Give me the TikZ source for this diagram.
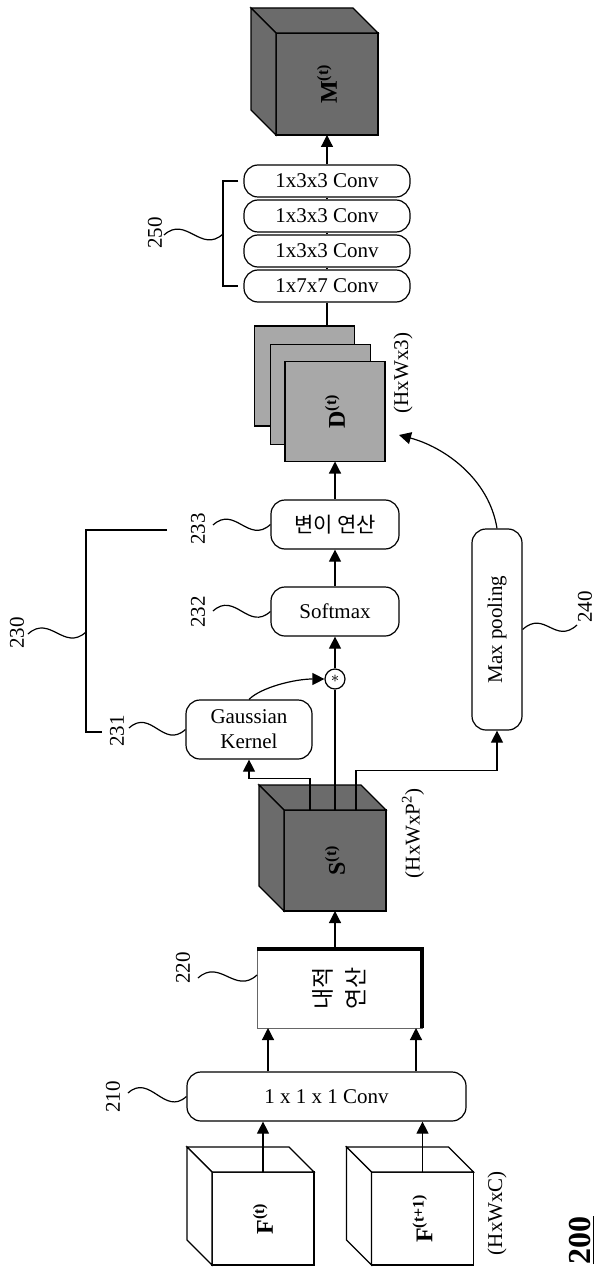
\documentclass[tikz,border=0pt]{standalone}
\usepackage{fontspec}
\setmainfont{Liberation Serif}
\newfontfamily\korfont{Noto Sans CJK KR}
\usetikzlibrary{calc,positioning,arrows.meta}

\definecolor{cubedark}{gray}{0.42}
\definecolor{sheetgray}{gray}{0.66}

\newcommand{\basefont}{\fontsize{10.5}{12.6}\selectfont}
\newcommand{\cubesides}[2]{%
  \filldraw[ln,fill=#2] (#1.north west) -- ++(-25,-25) -- ($(#1.north east)+(-25,-25)$) -- (#1.north east) -- cycle;
  \filldraw[ln,fill=#2] (#1.north west) -- ++(-25,-25) -- ($(#1.south west)+(-25,-25)$) -- (#1.south west) -- cycle;}
\newcommand{\squig}[2]{\draw[ln] (#1) .. controls +(22,-20) and +(-22,20) .. (#2);}

\tikzset{
  ln/.style={line width=0.6pt},
  arr/.style={ln,-{Triangle[length=6pt,width=6pt]}},
  rbox/.style={draw,ln,rounded corners=7pt,inner sep=0pt,align=center,font=\basefont},
  convbox/.style={rbox,minimum width=83pt,minimum height=16pt},
  opbox/.style={rbox,minimum width=64pt,minimum height=24.5pt},
  face/.style={draw,ln,inner sep=0pt,outer sep=0pt},
  vtext/.style={rotate=90,inner sep=0pt,font=\basefont},
  vbold/.style={rotate=90,inner sep=0pt,font=\fontsize{12}{14}\selectfont\bfseries},
}

\begin{document}
\begin{tikzpicture}[x=0.5pt,y=-0.5pt]
\useasboundingbox (0,0) rectangle (602,1278);

%output volume
\node[face,fill=cubedark,minimum width=51pt,minimum height=51pt] (M) at (327,84) {};
\cubesides{M}{cubedark}
\node[vbold] (Mlab) at (M) {M\textsuperscript{(t)}};

%refinement
\node[convbox] (c1) at (327,181) {1x3x3 Conv};
\node[convbox] (c2) at (327,216) {1x3x3 Conv};
\node[convbox] (c3) at (327,251) {1x3x3 Conv};
\node[convbox] (c4) at (327,286) {1x7x7 Conv};
\draw[arr] (c1.north) -- (M.south);
\draw[ln] (c2.north) -- (c1.south);
\draw[ln] (c3.north) -- (c2.south);
\draw[ln] (c4.north) -- (c3.south);

\coordinate (b250) at (223,234);
\draw[ln] ([xshift=-2.5pt]c1.west) -| (b250) |- ([xshift=-2.5pt]c4.west);
\squig{164,235}{b250}
\node[vtext] (n250) at (155,233) {250};

%disparity
\node[face,fill=sheetgray,minimum size=50pt] (D1) at (304.5,376) {};
\node[face,fill=sheetgray,minimum size=50pt] (D2) at (320.5,394.5) {};
\node[face,fill=sheetgray,minimum size=50pt] (D3) at (335,411.5) {};
\node[vbold] (Dlab) at (D3) {D\textsuperscript{(t)}};
\node[vtext] (Dsize) at (403,373) {(HxWx3)};
\draw[ln] (c4.south) -- (c4.south |- D1.north);

%disparity regression block
\node[opbox,font=\korfont\basefont] (disp) at (335,524.5) {변이 연산};
\node[opbox] (soft) at (335,611.5) {Softmax};
\node[draw,ln,circle,minimum size=10pt,inner sep=0pt,font=\fontsize{8}{8}\selectfont] (mul) at (335,679) {$\ast$};
\node[rbox,minimum width=63pt,minimum height=29.5pt] (gauss) at (249,729.5) {Gaussian\\Kernel};
\draw[arr] (soft.north) -- (disp.south);
\draw[arr] (disp.north) -- (D3.south);
\draw[arr] (mul.north) -- (soft.south);
\draw[arr] (gauss.north) .. controls +(12,-12) and +(-30,0) .. (mul.west);

\coordinate (t230) at (167,530);
\coordinate (b230) at (102,732);
\draw[ln] (t230) -| (86,732) -- (b230);
\squig{28,634}{86,632}
\node[vtext] (n230) at (17,633) {230};
\squig{213,525}{disp.west}
\node[vtext] (n233) at (198,529) {233};
\squig{213,611}{soft.west}
\node[vtext] (n232) at (198,612) {232};
\squig{129,728}{gauss.west}
\node[vtext] (n231) at (117,731) {231};

%max pooling
\node[rbox,minimum width=25pt,minimum height=100.5pt] (pool) at (497,629.5) {};
\node[vtext] (poollab) at (pool) {Max pooling};
\squig{pool.east}{577,625}
\node[vtext] (n240) at (585,607) {240};
\coordinate (dtip) at (399,435);
\draw[arr] (pool.north) .. controls +(-8,-50) and +(45,12) .. (dtip);

%similarity volume
\node[face,fill=cubedark,minimum width=51pt,minimum height=50.5pt] (S) at (335,860.5) {};
\cubesides{S}{cubedark}
\node[vbold] (Slab) at (S) {S\textsuperscript{(t)}};
\node[vtext] (Ssize) at (413,833) {(HxWxP\textsuperscript{2})};
\draw[ln] (S.north) -- (mul.south);
\coordinate (sg) at ($(S.north west)+(26,0)$);
\coordinate (sp) at ($(S.north west)+(72,0)$);
\draw[arr] (sg) |- ($(gauss.south)+(0,19)$) -- (gauss.south);
\draw[arr] (sp) |- ($(pool.south)+(0,40)$) -- (pool.south);

%dot product
\node[draw=black!60,line width=0.4pt,inner sep=0pt,outer sep=0pt,minimum width=82.5pt,minimum height=39.5pt] (dot) at (339.5,988.5) {};
\draw[line width=1.8pt] (dot.north west) -- (dot.north east) -- (dot.south east);
\node[rotate=90,align=center,font=\korfont\fontsize{11.5}{16.5}\selectfont] (dotlab) at (dot) {내적\\연산};
\draw[arr] (S.south |- dot.north) -- (S.south);
\squig{198,978}{$(dot.north west)+(0,26)$}
\node[vtext] (n220) at (183,968) {220};

%feature conv
\node[rbox,minimum width=139.5pt,minimum height=24.5pt] (c0) at (326.5,1096.5) {1 x 1 x 1 Conv};
\coordinate (dl) at ($(dot.south west)+(11,0)$);
\coordinate (dr) at ($(dot.south east)+(-6,0)$);
\draw[arr] (dl |- c0.north) -- (dl);
\draw[arr] (dr |- c0.north) -- (dr);
\squig{128,1093}{c0.west}
\node[vtext] (n210) at (113,1097) {210};

%input features
\node[face,fill=white,minimum width=51pt,minimum height=46.5pt] (F1) at (263,1218.5) {};
\cubesides{F1}{white}
\node[vbold] (F1lab) at (F1) {F\textsuperscript{(t)}};
\node[face,fill=white,minimum width=51pt,minimum height=46.5pt] (F2) at (422.5,1218.5) {};
\cubesides{F2}{white}
\node[vbold] (F2lab) at (F2) {F\textsuperscript{(t+1)}};
\node[vtext] (Fsize) at (497,1213) {(HxWxC)};
\draw[arr] (F1.north) -- (F1.north |- c0.south);
\draw[arr] (F2.north) -- (F2.north |- c0.south);

\node[rotate=90,inner sep=0pt,font=\fontsize{16}{16}\selectfont\bfseries] (fig) at (582,1240) {\underline{200}};
\end{tikzpicture}
\end{document}
